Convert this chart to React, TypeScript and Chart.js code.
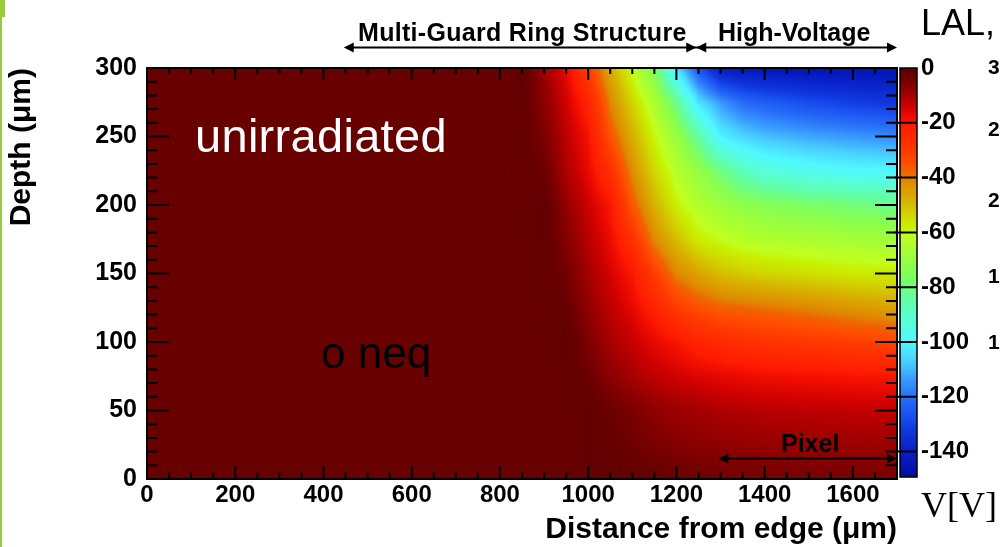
import React, { useEffect, useRef } from "react";
import { Chart, registerables } from "chart.js";

Chart.register(...registerables);

// Sampled distance-from-edge columns (µm)
const distanceColumns = [0, 750, 800, 850, 900, 950, 1000, 1050, 1100, 1150, 1200, 1250, 1300, 1350, 1400, 1500, 1600, 1700];
// Sampled depth rows (µm)
const depthRows = [0, 25, 50, 75, 100, 125, 150, 175, 200, 225, 250, 275, 300];

// Electric potential V[V] read along each depth row (one value per column)
const potentialDepth0 = [-2.5, -2.5, -2.5, -2.5, -2.5, -2, -0.5, -1, -1.5, -2, -2.5, -3, -3.5, -3.5, -4, -4, -4.5, -5];
const potentialDepth25 = [-2.5, -2.5, -2.5, -2.5, -2.5, -2.5, -0.5, -2, -3.5, -5, -6, -7, -7.5, -8, -8.3, -8.7, -9, -9];
const potentialDepth50 = [-2.5, -2.5, -2.5, -2.5, -2.5, -2, -0.5, -3, -5, -7.5, -9, -10, -11, -11.5, -12, -12.5, -13, -13.2];
const potentialDepth75 = [-2.5, -2.5, -2.5, -2.5, -2.5, -1.2, -3, -7.1, -10.3, -12.9, -14.4, -15.9, -16.7, -17.6, -18.2, -18.8, -19.5, -20];
const potentialDepth100 = [-2.5, -2.5, -2.5, -2.5, -2.5, 0, -5.3, -10.3, -13.5, -17, -19.6, -23.3, -25.3, -26.9, -28.1, -29.5, -31.2, -32.8];
const potentialDepth125 = [-2.5, -2.5, -2.5, -2.5, -1.5, -2, -7.7, -12.5, -16.8, -22.7, -30.4, -34.6, -37.3, -38.3, -39.2, -41.2, -43.6, -45.6];
const potentialDepth150 = [-2.5, -2.5, -2.5, -2.5, -1.2, -3.8, -10, -15, -20, -31, -41, -46, -50, -52, -53.5, -55.3, -57, -57.3];
const potentialDepth175 = [-2.5, -2.5, -2.5, -2, -0.5, -6, -12, -17.5, -27.5, -41.5, -50, -57.5, -60.5, -63, -64.5, -65.5, -67, -68];
const potentialDepth200 = [-2.5, -2.5, -2.5, -2, -0.5, -8, -14, -20, -36, -48, -58, -64, -68.5, -72, -74.5, -77, -79, -81];
const potentialDepth225 = [-2.5, -2.5, -2.5, -1.5, -3, -11, -17, -27, -42, -54, -63, -71, -80, -88, -93, -97, -99, -100];
const potentialDepth250 = [-2.5, -2.5, -2.5, -1.5, -5, -12.5, -19, -35, -47.5, -59, -69.5, -84, -101, -106, -109, -112, -114, -116];
const potentialDepth275 = [-2.5, -2.5, -2.5, -1, -7, -14.5, -23, -41, -53.5, -65.5, -81, -104, -114, -121, -124, -128, -131, -133];
const potentialDepth300 = [-2.5, -2.5, -2.5, 0, -9, -17, -31, -47, -61, -76, -104, -126, -142, -144, -145, -146, -146, -146];

const potentialGrid = [
  potentialDepth0, potentialDepth25, potentialDepth50, potentialDepth75, potentialDepth100,
  potentialDepth125, potentialDepth150, potentialDepth175, potentialDepth200, potentialDepth225,
  potentialDepth250, potentialDepth275, potentialDepth300,
];

// Palette (colour bar) stops
const colorStopVolts = [0, -2.5, -6, -10, -14, -18, -21, -30, -35, -38, -41, -48, -54, -58, -61, -66, -74, -80, -85, -92, -100, -107, -114, -120, -127, -132, -140, -146, -150];
const colorStopHex = ["#600000", "#680000", "#820000", "#a40000", "#cc0000", "#f00c00", "#ff1c00", "#ff3800", "#ff5000", "#f06400", "#e08800", "#d8b000", "#d0d800", "#c8f000", "#c0ff20", "#a8ff30", "#88ff50", "#70ff80", "#60ffa8", "#58ffd8", "#50f8ff", "#48d0ff", "#3898ff", "#2870f8", "#1850f0", "#1038e0", "#0820c8", "#0014b0", "#000c9c"];

// Axis ranges / ticks
const distanceMin = 0;
const distanceMax = 1700;
const distanceStep = 200;
const depthMin = 0;
const depthMax = 300;
const depthStep = 50;
const voltMin = -150;
const voltMax = 0;
const voltStep = 20;

// Annotation spans (µm)
const guardRingSpan = [446, 1245];
const highVoltageSpan = [1245, 1700];
const pixelSpan = [1295, 1700];
const topArrowDepth = 315;
const pixelArrowDepth = 15;

const stopRgb = colorStopHex.map((h) => [
  parseInt(h.slice(1, 3), 16),
  parseInt(h.slice(3, 5), 16),
  parseInt(h.slice(5, 7), 16),
]);

function colorFor(v: number): number[] {
  if (v >= colorStopVolts[0]) return stopRgb[0];
  const n = colorStopVolts.length;
  if (v <= colorStopVolts[n - 1]) return stopRgb[n - 1];
  for (let i = 0; i < n - 1; i++) {
    const a = colorStopVolts[i];
    const b = colorStopVolts[i + 1];
    if (v <= a && v >= b) {
      const t = (a - v) / (a - b);
      const c1 = stopRgb[i];
      const c2 = stopRgb[i + 1];
      return [c1[0] + (c2[0] - c1[0]) * t, c1[1] + (c2[1] - c1[1]) * t, c1[2] + (c2[2] - c1[2]) * t];
    }
  }
  return stopRgb[n - 1];
}

function locate(arr: number[], v: number): [number, number] {
  const n = arr.length;
  if (v <= arr[0]) return [0, 0];
  if (v >= arr[n - 1]) return [n - 2, 1];
  let i = 0;
  while (v > arr[i + 1]) i++;
  return [i, (v - arr[i]) / (arr[i + 1] - arr[i])];
}

function potentialAt(x: number, d: number): number {
  const [i, tx] = locate(distanceColumns, x);
  const [j, ty] = locate(depthRows, d);
  const r0 = potentialGrid[j];
  const r1 = potentialGrid[j + 1];
  const a = r0[i] * (1 - tx) + r0[i + 1] * tx;
  const b = r1[i] * (1 - tx) + r1[i + 1] * tx;
  return a * (1 - ty) + b * ty;
}

const heatmapPlugin = {
  id: "heatmap",
  beforeDatasetsDraw(chart: any) {
    const { ctx, chartArea, scales } = chart;
    const xs = scales.x;
    const ys = scales.y;
    const left = Math.round(chartArea.left);
    const top = Math.round(chartArea.top);
    const w = Math.round(chartArea.right) - left;
    const h = Math.round(chartArea.bottom) - top;
    const off = document.createElement("canvas");
    off.width = w;
    off.height = h;
    const octx = off.getContext("2d")!;
    const img = octx.createImageData(w, h);
    const xVals: number[] = [];
    for (let px = 0; px < w; px++) xVals.push(xs.getValueForPixel(left + px + 0.5));
    for (let py = 0; py < h; py++) {
      const d = ys.getValueForPixel(top + py + 0.5);
      for (let px = 0; px < w; px++) {
        const c = colorFor(potentialAt(xVals[px], d));
        const k = (py * w + px) * 4;
        img.data[k] = c[0];
        img.data[k + 1] = c[1];
        img.data[k + 2] = c[2];
        img.data[k + 3] = 255;
      }
    }
    octx.putImageData(img, 0, 0);
    ctx.save();
    ctx.drawImage(off, left, top);
    ctx.restore();
  },
};

const framePlugin = {
  id: "frame",
  afterDatasetsDraw(chart: any) {
    const { ctx, chartArea, scales } = chart;
    const xs = scales.x;
    const ys = scales.y;
    ctx.save();
    ctx.strokeStyle = "#000";
    ctx.lineWidth = 2;
    ctx.beginPath();
    for (let v = distanceMin; v <= distanceMax; v += 50) {
      const px = xs.getPixelForValue(v);
      const major = v % distanceStep === 0;
      ctx.moveTo(px, chartArea.bottom);
      ctx.lineTo(px, chartArea.bottom - (major ? 13 : 7));
      ctx.moveTo(px, chartArea.top);
      ctx.lineTo(px, chartArea.top + (major ? 12 : 6));
    }
    for (let v = depthMin; v <= depthMax; v += 10) {
      const py = ys.getPixelForValue(v);
      const major = v % depthStep === 0;
      ctx.moveTo(chartArea.left, py);
      ctx.lineTo(chartArea.left + (major ? 22 : 11), py);
      ctx.moveTo(chartArea.right, py);
      ctx.lineTo(chartArea.right - (major ? 22 : 11), py);
    }
    ctx.stroke();
    ctx.strokeRect(chartArea.left, chartArea.top, chartArea.right - chartArea.left, chartArea.bottom - chartArea.top);
    ctx.restore();
  },
};

function arrowHead(ctx: CanvasRenderingContext2D, x: number, y: number, dir: number) {
  ctx.beginPath();
  ctx.moveTo(x, y);
  ctx.lineTo(x - dir * 10, y - 5);
  ctx.lineTo(x - dir * 10, y + 5);
  ctx.closePath();
  ctx.fill();
}

const overlayPlugin = {
  id: "overlay",
  afterDraw(chart: any) {
    const { ctx, chartArea, scales } = chart;
    const xs = scales.x;
    const ys = scales.y;
    const yc = scales.yc;
    ctx.save();
    // colour bar
    const barLeft = chartArea.right + 3;
    const barWidth = 17;
    const barTop = Math.round(yc.top);
    const barBottom = Math.round(yc.bottom) - 2;
    for (let py = barTop; py < barBottom; py++) {
      const c = colorFor(yc.getValueForPixel(py + 0.5));
      ctx.fillStyle = `rgb(${c[0]},${c[1]},${c[2]})`;
      ctx.fillRect(barLeft, py, barWidth, 1);
    }
    ctx.strokeStyle = "#000";
    ctx.lineWidth = 1.5;
    ctx.strokeRect(barLeft, barTop, barWidth, barBottom - barTop);
    ctx.lineWidth = 2;
    ctx.beginPath();
    for (let v = voltMin + 10; v < voltMax; v += voltStep) {
      const py = yc.getPixelForValue(v);
      ctx.moveTo(chartArea.right - 2, py);
      ctx.lineTo(barLeft + barWidth, py);
    }
    ctx.stroke();

    // arrows
    ctx.fillStyle = "#000";
    ctx.strokeStyle = "#000";
    ctx.lineWidth = 2;
    const yTop = ys.getPixelForValue(topArrowDepth);
    const g0 = xs.getPixelForValue(guardRingSpan[0]);
    const g1 = xs.getPixelForValue(guardRingSpan[1]);
    const h1 = xs.getPixelForValue(highVoltageSpan[1]);
    ctx.beginPath();
    ctx.moveTo(g0 + 4, yTop);
    ctx.lineTo(h1 - 4, yTop);
    ctx.stroke();
    arrowHead(ctx, g0, yTop, -1);
    arrowHead(ctx, g1, yTop, 1);
    arrowHead(ctx, xs.getPixelForValue(highVoltageSpan[0]), yTop, -1);
    arrowHead(ctx, h1, yTop, 1);

    const yPix = ys.getPixelForValue(pixelArrowDepth);
    const p0 = xs.getPixelForValue(pixelSpan[0]);
    const p1 = xs.getPixelForValue(pixelSpan[1]);
    ctx.beginPath();
    ctx.moveTo(p0 + 4, yPix);
    ctx.lineTo(p1 - 4, yPix);
    ctx.stroke();
    arrowHead(ctx, p0, yPix, -1);
    arrowHead(ctx, p1, yPix, 1);
    ctx.restore();
  },
};

const SANS = "'Liberation Sans', Arial, Helvetica, sans-serif";
const plainNumber = (v: any) => String(v);

export default function App() {
  const canvasRef = useRef<HTMLCanvasElement>(null);

  useEffect(() => {
    const canvas = canvasRef.current;
    if (!canvas) return;
    const tickFont = { family: SANS, size: 24, weight: "bold" as const };
    const chart = new Chart(canvas, {
      type: "scatter",
      data: { datasets: [{ data: [], showLine: false }] },
      plugins: [heatmapPlugin, framePlugin, overlayPlugin],
      options: {
        responsive: false,
        animation: false,
        devicePixelRatio: 1,
        events: [],
        layout: { padding: { left: 0, right: 0, top: 68, bottom: 0 } },
        plugins: { legend: { display: false }, tooltip: { enabled: false }, title: { display: false } },
        scales: {
          x: {
            type: "linear",
            position: "bottom",
            min: distanceMin,
            max: distanceMax,
            afterFit: (s: any) => {
              s.height = 68;
            },
            grid: { display: false, drawTicks: false },
            border: { display: false },
            ticks: {
              stepSize: distanceStep,
              includeBounds: false,
              autoSkip: false,
              maxRotation: 0,
              padding: 2,
              color: "#000",
              font: tickFont,
              callback: plainNumber,
            },
            title: {
              display: true,
              text: "Distance from edge (μm)",
              align: "end",
              color: "#000",
              font: { family: SANS, size: 30, weight: "bold", lineHeight: 1 },
              padding: { top: 0, bottom: 2 },
            },
          },
          y: {
            type: "linear",
            position: "left",
            min: depthMin,
            max: depthMax,
            afterFit: (s: any) => {
              s.width = 147;
            },
            grid: { display: false, drawTicks: false },
            border: { display: false },
            ticks: {
              stepSize: depthStep,
              autoSkip: false,
              padding: 10,
              color: "#000",
              font: { family: SANS, size: 25, weight: "bold" },
              callback: plainNumber,
            },
            title: {
              display: true,
              text: "Depth (μm)",
              align: "end",
              color: "#000",
              font: { family: SANS, size: 30, weight: "bold", lineHeight: 1 },
              padding: { top: 7, bottom: 0 },
            },
          },
          yc: {
            type: "linear",
            position: "right",
            min: voltMin,
            max: voltMax,
            afterFit: (s: any) => {
              s.width = 103;
            },
            grid: { display: false, drawTicks: false },
            border: { display: false },
            ticks: {
              stepSize: voltStep,
              includeBounds: false,
              autoSkip: false,
              padding: 24,
              color: "#000",
              font: tickFont,
              callback: plainNumber,
            },
          },
        },
      } as any,
    });
    return () => chart.destroy();
  }, []);

  const abs = (extra: React.CSSProperties): React.CSSProperties => ({
    position: "absolute",
    whiteSpace: "nowrap",
    margin: 0,
    ...extra,
  });

  const cutLabels = [
    { t: "300", top: 56 },
    { t: "250", top: 118 },
    { t: "200", top: 189 },
    { t: "150", top: 265 },
    { t: "100", top: 331 },
  ];

  return (
    <div
      style={{
        position: "fixed",
        left: 0,
        top: 0,
        width: 1000,
        height: 547,
        overflow: "hidden",
        background: "#ffffff",
      }}
    >
      <canvas
        ref={canvasRef}
        width={1000}
        height={547}
        style={{ position: "absolute", left: 0, top: 0, width: 1000, height: 547 }}
      />
      <div style={abs({ left: 0, top: 0, width: 5, height: 17, background: "#9dc83e" })} />
      <div style={abs({ left: 0, top: 17, width: 2, height: 530, background: "#9dc83e" })} />
      <div style={abs({ left: 358, top: 20, fontFamily: SANS, fontWeight: "bold", fontSize: 25, lineHeight: "25px", letterSpacing: "0.3px", color: "#000" })}>
        Multi-Guard Ring Structure
      </div>
      <div style={abs({ left: 718, top: 20, fontFamily: SANS, fontWeight: "bold", fontSize: 25, lineHeight: "25px", color: "#000" })}>
        High-Voltage
      </div>
      <div style={abs({ left: 921, top: 5, fontFamily: SANS, fontSize: 36, lineHeight: "36px", color: "#000" })}>
        LAL,
      </div>
      <div style={abs({ left: 195, top: 112, fontFamily: SANS, fontSize: 47, lineHeight: "47px", letterSpacing: "0.3px", color: "#ffffff" })}>
        unirradiated
      </div>
      <div style={abs({ left: 321, top: 331, fontFamily: SANS, fontSize: 44, lineHeight: "44px", color: "#000" })}>
        o neq
      </div>
      <div style={abs({ left: 781, top: 431, fontFamily: SANS, fontWeight: "bold", fontSize: 25, lineHeight: "25px", color: "#000" })}>
        Pixel
      </div>
      <div style={abs({ left: 921, top: 487, fontFamily: "'Liberation Serif', 'Times New Roman', serif", fontSize: 36, lineHeight: "36px", color: "#000" })}>
        V[V]
      </div>
      {cutLabels.map((c) => (
        <div
          key={c.t}
          style={abs({ left: 988, top: c.top, fontFamily: SANS, fontWeight: "bold", fontSize: 21, lineHeight: "21px", color: "#000" })}
        >
          {c.t}
        </div>
      ))}
    </div>
  );
}
